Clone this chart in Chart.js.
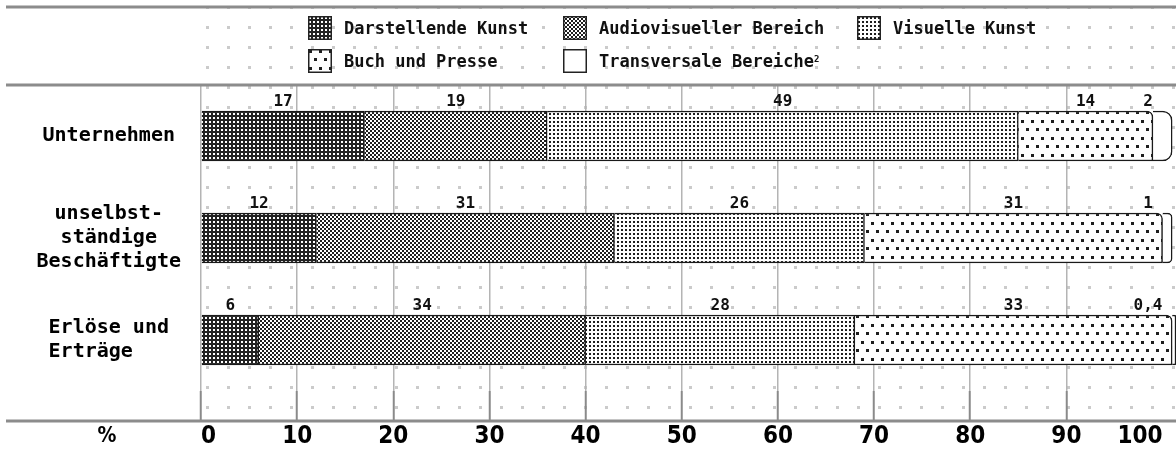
<!DOCTYPE html>
<html>
<head>
<meta charset="utf-8">
<script src="https://cdn.jsdelivr.net/npm/chart.js@4.4.1/dist/chart.umd.min.js"></script>
<style>
  html, body { margin: 0; padding: 0; background: #fff; }
  #wrap { position: relative; width: 1176px; height: 453px; }
  #legend { position: absolute; left: 0; top: 0; font: bold 17px "DejaVu Sans Mono", monospace; color: #111; }
  .item { position: absolute; display: flex; align-items: center; height: 25px; white-space: nowrap; }
  .item canvas { margin-right: 12px; }
  .item sup { font-size: 9px; position: relative; top: -2px; }
</style>
</head>
<body>
<div id="wrap">
  <canvas id="chart" width="1176" height="453"></canvas>
  <div id="legend"></div>
</div>
<script>
// data (percent shares)
const categories = ['Unternehmen', ['unselbst-', 'ständige', 'Beschäftigte'], ['Erlöse und', 'Erträge   ']];
const seriesNames = ['Darstellende Kunst', 'Audiovisueller Bereich', 'Visuelle Kunst', 'Buch und Presse', 'Transversale Bereiche'];
const darstellendeKunst = [17, 12, 6];
const audiovisuell = [19, 31, 34];
const visuelleKunst = [49, 26, 28];
const buchPresse = [14, 31, 33];
const transversal = [2, 1, 0.4];
const xTicks = [0, 10, 20, 30, 40, 50, 60, 70, 80, 90, 100];

function tile(w, h, bg, draw) {
  const c = document.createElement('canvas');
  c.width = w; c.height = h;
  const g = c.getContext('2d');
  g.fillStyle = bg;
  g.fillRect(0, 0, w, h);
  g.fillStyle = '#1e1e1e';
  draw(g);
  return c;
}

const tiles = [
  tile(4, 4, '#222', g => { g.fillStyle = '#fff'; g.fillRect(1, 1, 2, 2); }),
  tile(4, 4, '#fff', g => { g.fillRect(0, 0, 2, 2); g.fillRect(2, 2, 2, 2); }),
  tile(4, 4, '#fff', g => { g.fillRect(1, 1, 2, 2); }),
  tile(10, 17, '#fff', g => { g.fillRect(1, 1, 3, 3); g.fillRect(6, 9, 3, 3); }),
  tile(4, 4, '#fff', g => {})
];
const dotTile = tile(21, 20, '#fff', g => { g.fillStyle = '#cbcbcb'; g.fillRect(17, 6, 3, 3); });

const ctx = document.getElementById('chart').getContext('2d');
const fills = tiles.map(t => ctx.createPattern(t, 'repeat'));
const dotFill = ctx.createPattern(dotTile, 'repeat');

// html legend, two rows like the original
const legendSpots = [[308, 15], [563, 15], [857, 15], [308, 48], [563, 48]];
const legendEl = document.getElementById('legend');
seriesNames.forEach((name, i) => {
  const item = document.createElement('div');
  item.className = 'item';
  item.style.left = legendSpots[i][0] + 'px';
  item.style.top = legendSpots[i][1] + 'px';
  const sw = document.createElement('canvas');
  sw.width = 24; sw.height = 24;
  const g = sw.getContext('2d');
  g.fillStyle = g.createPattern(tiles[i], 'repeat');
  g.fillRect(0, 0, 24, 24);
  g.strokeStyle = '#222';
  g.lineWidth = 1.5;
  g.strokeRect(0.75, 0.75, 22.5, 22.5);
  item.appendChild(sw);
  const txt = document.createElement('span');
  txt.textContent = name;
  item.appendChild(txt);
  if (i === 4) {
    const sup = document.createElement('sup');
    sup.textContent = '2';
    item.appendChild(sup);
  }
  legendEl.appendChild(item);
});

const backdrop = {
  id: 'backdrop',
  beforeDraw(chart) {
    const { ctx, chartArea } = chart;
    ctx.save();
    ctx.fillStyle = '#fff';
    ctx.fillRect(0, 0, chart.width, chart.height);
    ctx.fillStyle = dotFill;
    ctx.fillRect(chartArea.left, 8, chart.width - chartArea.left, chartArea.bottom + 30 - 8);
    ctx.restore();
  },
  afterDraw(chart) {
    const { ctx, chartArea } = chart;
    ctx.save();
    ctx.fillStyle = '#8c8c8c';
    [7, chartArea.top, chartArea.bottom + 30].forEach(y => ctx.fillRect(6, y - 1.5, chart.width - 6, 3));
    ctx.fillStyle = '#000';
    ctx.font = 'bold 21px "Liberation Sans Narrow", "DejaVu Sans Condensed", sans-serif';
    ctx.textAlign = 'center';
    ctx.textBaseline = 'middle';
    ctx.fillText('%', 107, chartArea.bottom + 46);
    ctx.restore();
  }
};

const valueLabels = {
  id: 'valueLabels',
  afterDatasetsDraw(chart) {
    const { ctx, chartArea } = chart;
    ctx.save();
    ctx.font = 'bold 16px "DejaVu Sans Mono", monospace';
    ctx.fillStyle = '#111';
    ctx.textAlign = 'center';
    ctx.textBaseline = 'alphabetic';
    chart.data.datasets.forEach((ds, i) => {
      chart.getDatasetMeta(i).data.forEach((bar, j) => {
        const x = Math.min((bar.x + bar.base) / 2, chartArea.right - 28);
        const y = bar.y - bar.height / 2 - 5;
        ctx.fillText(String(ds.data[j]).replace('.', ','), x, y);
      });
    });
    ctx.restore();
  }
};

const values = [darstellendeKunst, audiovisuell, visuelleKunst, buchPresse, transversal];

new Chart(ctx, {
  type: 'bar',
  data: {
    labels: categories,
    datasets: values.map((v, i) => ({
      label: seriesNames[i],
      data: v,
      backgroundColor: fills[i],
      borderColor: '#1a1a1a',
      borderWidth: 1.5,
      borderSkipped: 'start',
      borderRadius: i === 4 ? { topRight: 14, bottomRight: 14 } : (i === 3 ? { topRight: 6 } : 0),
      barThickness: 50
    }))
  },
  options: {
    indexAxis: 'y',
    responsive: false,
    animation: false,
    layout: { padding: { top: 85, right: 0, bottom: 0, left: 0 } },
    plugins: { legend: { display: false }, tooltip: { enabled: false } },
    scales: {
      x: {
        type: 'linear',
        stacked: true,
        min: 0,
        max: 101.4,
        afterBuildTicks: s => { s.ticks = xTicks.map(v => ({ value: v })); },
        border: { display: false },
        grid: {
          color: c => (c.tick && c.tick.value === 100) ? 'rgba(0,0,0,0)' : '#b4b4b4',
          lineWidth: 1.5,
          tickLength: 30,
          tickColor: c => (c.tick && c.tick.value === 100) ? 'rgba(0,0,0,0)' : '#8a8a8a',
          tickWidth: 2
        },
        ticks: {
          align: 'inner',
          autoSkip: false,
          maxRotation: 0,
          padding: 4,
          color: '#000',
          font: { family: '"Liberation Sans Narrow", "DejaVu Sans Condensed", sans-serif', size: 24, weight: 'bold', lineHeight: 1 }
        }
      },
      y: {
        stacked: true,
        afterFit: s => { s.width = 201; },
        border: { display: false },
        grid: { display: false, drawTicks: false },
        ticks: {
          crossAlign: 'center',
          padding: 20,
          color: '#000',
          font: { family: '"DejaVu Sans Mono", monospace', size: 20, weight: 'bold', lineHeight: 1.2 }
        }
      }
    }
  },
  plugins: [backdrop, valueLabels]
});
</script>
</body>
</html>
